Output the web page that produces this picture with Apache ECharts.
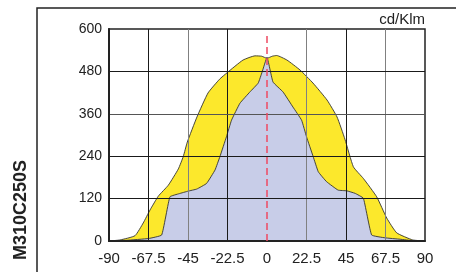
<!DOCTYPE html>
<html><head><meta charset="utf-8">
<script src="https://cdn.jsdelivr.net/npm/echarts@6/dist/echarts.min.js"></script>
<style>html,body{margin:0;padding:0;background:#fff}#c{width:456px;height:272px}</style>
</head><body><div id="c"></div>
<script>
const xTicks = [-90, -67.5, -45, -22.5, 0, 22.5, 45, 67.5, 90];
const yTicks = [0, 120, 240, 360, 480, 600];
const outerAngles = [-90,-83.7,-75.2,-70.5,-66.6,-61.9,-56.2,-50.5,-47.7,-45.4,-39.9,-33.6,-27,-22.8,-13.7,-6.8,-3,0,3,5.5,11.4,18.8,26.2,34.2,39.9,44.4,49.2,54.9,62.5,68.2,73.9,83,90];
const outerValues = [0,3,15,51,88,127,158,204,239,280,351,419,458,476,512,524,523,517,523,525,512,484,447,399,351,288,210,177,125,65,23,3,0];
const innerAngles = [-90,-80,-67.5,-60,-55.3,-50,-45,-40,-34.4,-29.6,-26.8,-23.1,-20.2,-15.4,-9.7,-5,-2.8,0,3.4,9.1,14.8,19.7,22.5,26.3,29.2,33.9,40.5,45.4,50.1,54.9,59.6,67.2,75.8,83,90];
const innerValues = [0,2,7,17,125,134,141,147,163,201,239,295,342,390,422,447,478,520,450,422,379,342,295,239,196,168,144,142,135,121,17,9,5,1,0];
const unitLabel = 'cd/Klm';
const modelLabel = 'M310C250S';

const pair = (a, v) => a.map((x, i) => [x, v[i]]);
const chart = echarts.init(document.getElementById('c'));
const font = 'Liberation Sans, Arial, sans-serif';
const dark = '#1a1a1a', gray = '#808080';
const vGridColor = {'-67.5': dark, '-45': gray, '-22.5': dark, '22.5': gray, '45': dark, '67.5': gray};
const hGridColor = {'120': dark, '240': dark, '360': '#555', '480': dark};
const gridLines = [];
xTicks.forEach(t => { if (vGridColor[String(t)]) gridLines.push({xAxis: t, lineStyle: {color: vGridColor[String(t)], width: 1, type: 'solid'}}); });
yTicks.forEach(t => { if (hGridColor[String(t)]) gridLines.push({yAxis: t, lineStyle: {color: hGridColor[String(t)], width: 1, type: 'solid'}}); });

chart.setOption({
  animation: false,
  grid: {left: 109, top: 29, right: 31, bottom: 31, show: true, borderColor: '#222', borderWidth: 1.5},
  xAxis: {
    type: 'value', min: xTicks[0], max: xTicks[xTicks.length - 1], interval: 22.5, z: 5,
    axisLine: {show: true, onZero: false, lineStyle: {color: '#222', width: 2}},
    axisTick: {show: false},
    axisLabel: {color: '#222', fontSize: 15, fontFamily: font, margin: 10, formatter: v => String(v)},
    splitLine: {show: false}
  },
  yAxis: {
    type: 'value', min: yTicks[0], max: yTicks[yTicks.length - 1], interval: 120, z: 5,
    axisLine: {show: true, onZero: false, lineStyle: {color: '#222', width: 2}},
    axisTick: {show: false},
    axisLabel: {color: '#222', fontSize: 14, fontFamily: font, margin: 7},
    splitLine: {show: false}
  },
  graphic: [
    {type: 'rect', shape: {x: 37, y: 8, width: 440, height: 300}, style: {fill: 'none', stroke: '#222', lineWidth: 1.5}, z: 0},
    {type: 'text', x: 425, y: 20, style: {text: unitLabel, fill: '#222', font: '15px Liberation Sans, Arial, sans-serif', textAlign: 'right', textVerticalAlign: 'middle'}},
    {type: 'text', x: 21, y: 210, rotation: Math.PI / 2, style: {text: modelLabel, fill: '#222', font: 'bold 18px Liberation Sans, Arial, sans-serif', textAlign: 'center', textVerticalAlign: 'middle'}}
  ],
  series: [
    {type: 'line', data: pair(outerAngles, outerValues), symbol: 'none', smooth: 0.15, z: 2,
      lineStyle: {color: '#333', width: 0.9}, areaStyle: {color: '#fce82c', opacity: 1}},
    {type: 'line', data: pair(innerAngles, innerValues), symbol: 'none', smooth: 0.1, z: 3,
      lineStyle: {color: '#333', width: 0.9}, areaStyle: {color: '#c8cde8', opacity: 1}},
    {type: 'line', data: [[0, 0]], symbol: 'none', z: 4, lineStyle: {opacity: 0},
      markLine: {silent: true, symbol: 'none', z: 4, label: {show: false}, data: gridLines}},
    {type: 'line', data: [[0, 0]], symbol: 'none', z: 6, lineStyle: {opacity: 0},
      markLine: {silent: true, symbol: 'none', z: 6, label: {show: false},
        lineStyle: {color: '#ee4a62', type: [7, 4], width: 1.5},
        data: [[{coord: [0, 0]}, {coord: [0, 580]}]]}}
  ]
});
</script></body></html>
